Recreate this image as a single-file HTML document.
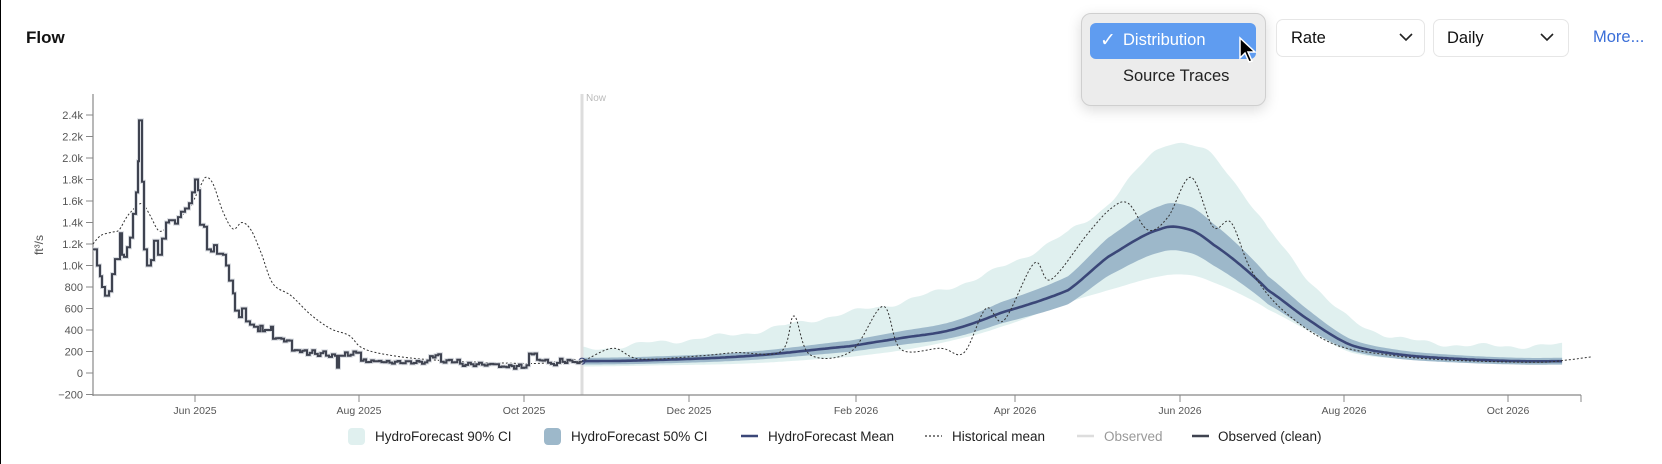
<!DOCTYPE html>
<html><head><meta charset="utf-8"><style>
html,body{margin:0;padding:0;background:#fff;}
body{width:1662px;height:464px;overflow:hidden;position:relative;font-family:"Liberation Sans",sans-serif;border-left:1px solid #000;box-sizing:border-box;}
.abs{position:absolute;}
.title{left:25px;top:28px;font-size:17px;font-weight:bold;color:#111;}
.menu{left:1080px;top:13px;width:183px;height:91px;background:#ececec;border:1px solid #cfcfcf;border-radius:10px;box-shadow:0 4px 14px rgba(0,0,0,0.15);}
.hl{left:1089px;top:23px;width:166px;height:36px;background:#5f9cf0;border-radius:6px;color:#fff;font-size:16.5px;}
.sel{border:1px solid #e6e6e6;border-radius:7px;background:#fff;font-size:16.5px;color:#111;}
.more{left:1592px;top:28px;font-size:16.5px;color:#3b6fd8;}
</style></head><body>
<div class="abs title">Flow</div>
<div class="abs menu"></div>
<div class="abs hl"><span style="position:absolute;left:10px;top:6px;font-size:19px;">✓</span><span style="position:absolute;left:33px;top:8px;">Distribution</span></div>
<div class="abs" style="left:1122px;top:67px;font-size:16.5px;color:#222;">Source Traces</div>
<svg class="abs" style="left:1237px;top:36px" width="22" height="30" viewBox="0 0 22 30"><path d="M2 2 L2 22 L7 17 L11 26 L14 25 L10 16 L17 16 Z" fill="#000" stroke="#fff" stroke-width="1.5"/></svg>
<div class="abs sel" style="left:1275px;top:19px;width:147px;height:36px;"><span style="position:absolute;left:14px;top:9px;">Rate</span><svg style="position:absolute;left:122px;top:12px" width="14" height="10"><path d="M1 2 L7 8 L13 2" fill="none" stroke="#222" stroke-width="1.6"/></svg></div>
<div class="abs sel" style="left:1432px;top:19px;width:134px;height:36px;"><span style="position:absolute;left:13px;top:9px;">Daily</span><svg style="position:absolute;left:106px;top:12px" width="14" height="10"><path d="M1 2 L7 8 L13 2" fill="none" stroke="#222" stroke-width="1.6"/></svg></div>
<div class="abs more">More...</div>
<svg id="ch" class="abs" style="left:0;top:0" width="1662" height="464"></svg>
<script>
var svg=document.getElementById('ch');
function Y(v){return 373-v*0.1075;}
var out='';
var cx=[581,650,750,850,900,950,1000,1067,1107,1160,1190,1213,1240,1267,1310,1350,1400,1460,1520,1563];
var mean=[110,120,160,250,325,400,560,770,1080,1340,1330,1190,1000,770,480,260,170,130,110,110];
var p95=[220,280,380,560,660,800,980,1300,1580,2100,2120,2000,1700,1330,850,490,320,260,250,260];
var p5=[60,70,90,150,210,300,430,650,770,900,910,840,730,590,380,190,130,100,90,90];
function interp(xs,vs,x){var n=xs.length;for(var i=0;i<n-1;i++){if(x<=xs[i+1]){var t=(x-xs[i])/(xs[i+1]-xs[i]);var v0=vs[Math.max(i-1,0)],v1=vs[i],v2=vs[i+1],v3=vs[Math.min(i+2,n-1)];
var m1=(v2-v0)/2,m2=(v3-v1)/2;var t2=t*t,t3=t2*t;return (2*t3-3*t2+1)*v1+(t3-2*t2+t)*m1+(-2*t3+3*t2)*v2+(t3-t2)*m2;}}return vs[n-1];}
var xsS=[];for(var x=581;x<=1563;x+=2.7)xsS.push(x);
function band(fu,fl,col){var a='M',b='';xsS.forEach(function(x,i){a+=(i?' L':'')+x.toFixed(1)+' '+Y(fu(x)).toFixed(1);});for(var i=xsS.length-1;i>=0;i--){b+=' L'+xsS[i].toFixed(1)+' '+Y(fl(xsS[i])).toFixed(1);}return '<path d="'+a+b+' Z" fill="'+col+'"/>';}
out+=band(function(x){return interp(cx,p95,x)+18*Math.sin(x*0.09)+10*Math.sin(x*0.23);},function(x){return interp(cx,p5,x);},'#e0f0ef');
out+=band(function(x){return interp(cx,mean,x)*1.15+15;},function(x){return Math.max(interp(cx,mean,x)*0.85-15,40);},'#9db8ca');
out+='<line x1="581" y1="94" x2="581" y2="395" stroke="#ddd" stroke-width="3"/>';
out+='<text x="585" y="101" font-size="10" fill="#bbb">Now</text>';
out+='<line x1="92" y1="94" x2="92" y2="396" stroke="#888" stroke-width="1.2"/>';
out+='<line x1="92" y1="395" x2="1580" y2="395" stroke="#888" stroke-width="1.2"/>';
var yl=[-200,0,200,400,600,800,'1.0k','1.2k','1.4k','1.6k','1.8k','2.0k','2.2k','2.4k'];
for(var i=0;i<yl.length;i++){var v=-200+200*i,y=Y(v);out+='<line x1="85" y1="'+y+'" x2="92" y2="'+y+'" stroke="#888"/>';out+='<text x="82" y="'+(y+4)+'" font-size="11" fill="#555" text-anchor="end">'+(v<0?'\u2212200':yl[i])+'</text>';}
out+='<text transform="translate(42,245) rotate(-90)" font-size="12" fill="#555" text-anchor="middle">ft³/s</text>';
var xt=[[194,'Jun 2025'],[358,'Aug 2025'],[523,'Oct 2025'],[688,'Dec 2025'],[855,'Feb 2026'],[1014,'Apr 2026'],[1179,'Jun 2026'],[1343,'Aug 2026'],[1507,'Oct 2026']];
xt.forEach(function(t){out+='<line x1="'+t[0]+'" y1="395" x2="'+t[0]+'" y2="402" stroke="#888"/><text x="'+t[0]+'" y="414" font-size="10.5" fill="#555" text-anchor="middle">'+t[1]+'</text>';});
out+='<line x1="1580" y1="395" x2="1580" y2="402" stroke="#888"/>';
var d='';xsS.forEach(function(x,i){d+=(i?' L':'M')+x.toFixed(1)+' '+Y(interp(cx,mean,x)).toFixed(1);});
out+='<path d="'+d+'" fill="none" stroke="#3b4778" stroke-width="2.6"/>';
out+='<circle cx="581" cy="'+Y(110)+'" r="3" fill="none" stroke="#3b4778" stroke-width="1.2"/>';
var hp=[[92,1200],[100,1280],[111,1310],[118,1330],[125,1440],[130,1500],[138,1570],[143,1560],[150,1450],[157,1330],[163,1330],[170,1400],[180,1460],[190,1560],[200,1750],[205,1820],[212,1760],[222,1500],[232,1340],[241,1400],[250,1330],[260,1120],[272,830],[290,720],[310,540],[330,410],[348,350],[360,240],[380,180],[420,130],[480,100],[540,90],[570,130],[581,110],[612,230],[639,130],[700,160],[735,190],[780,200],[793,530],[809,170],[850,200],[882,620],[900,220],[940,230],[963,190],[985,600],[1003,490],[1033,1020],[1050,870],[1087,1300],[1110,1530],[1127,1580],[1147,1330],[1167,1450],[1190,1820],[1212,1360],[1230,1400],[1250,960],[1280,600],[1330,280],[1385,170],[1450,120],[1534,100],[1565,120],[1590,150]];
var P=hp.map(function(p){return [p[0],Y(p[1])];});
var hd='M'+P[0][0]+' '+P[0][1];
for(var i=0;i<P.length-1;i++){var p0=P[Math.max(i-1,0)],p1=P[i],p2=P[i+1],p3=P[Math.min(i+2,P.length-1)];
hd+=' C'+(p1[0]+(p2[0]-p0[0])/6).toFixed(1)+' '+(p1[1]+(p2[1]-p0[1])/6).toFixed(1)+' '+(p2[0]-(p3[0]-p1[0])/6).toFixed(1)+' '+(p2[1]-(p3[1]-p1[1])/6).toFixed(1)+' '+p2[0]+' '+p2[1].toFixed(1);}
out+='<path d="'+hd+'" fill="none" stroke="#333" stroke-width="1" stroke-dasharray="2,2"/>';
var op=[[92,1150],[96,1000],[99,900],[101,800],[104,720],[108,760],[111,920],[114,1060],[117,1060],[119,1300],[121,1100],[123,1080],[126,1170],[129,1260],[132,1480],[135,1680],[137,1970],[138,2350],[141,1780],[143,1150],[146,1000],[150,1050],[153,1230],[157,1100],[161,1250],[165,1400],[168,1420],[174,1390],[177,1450],[180,1500],[184,1530],[188,1580],[191,1680],[194,1800],[197,1700],[199,1380],[203,1360],[206,1150],[210,1130],[213,1190],[216,1110],[222,1100],[225,1000],[228,860],[232,740],[234,580],[238,520],[241,600],[245,480],[249,450],[253,430],[257,400],[264,400],[270,430],[272,320],[283,300],[291,210],[299,200],[306,190],[314,180],[325,170],[334,160],[336,50],[338,160],[344,180],[358,190],[360,110],[383,100],[421,100],[429,160],[440,110],[459,80],[478,80],[498,60],[513,60],[528,180],[536,120],[547,90],[559,110],[574,100],[581,110]];
var od='',first=true;
for(var i=0;i<op.length-1;i++){var x0=op[i][0],x1=op[i+1][0],v=op[i][1];
 var n=Math.max(1,Math.round((x1-x0)/2.7));for(var k=0;k<n;k++){var xa=x0+(x1-x0)*k/n,xb=x0+(x1-x0)*(k+1)/n;var vv=v+(n>2?(Math.sin(xa*1.7)*12+Math.sin(xa*0.61)*10)*(v<300?1:2):0);var y=Y(vv);
 if(first){od='M'+xa.toFixed(1)+' '+y.toFixed(1);first=false;}else od+=' L'+xa.toFixed(1)+' '+y.toFixed(1);od+=' L'+xb.toFixed(1)+' '+y.toFixed(1);}}
out+='<path d="'+od+'" fill="none" stroke="#d8dbe0" stroke-width="4"/>';
out+='<path d="'+od+'" fill="none" stroke="#3f4350" stroke-width="2"/>';
var ly=436;
out+='<rect x="347" y="'+(ly-8)+'" width="17" height="17" rx="4" fill="#e0f0ef"/><text x="374" y="'+(ly+5)+'" font-size="13.5" fill="#222">HydroForecast 90% CI</text>';
out+='<rect x="543" y="'+(ly-8)+'" width="17" height="17" rx="4" fill="#9db8ca"/><text x="570" y="'+(ly+5)+'" font-size="13.5" fill="#222">HydroForecast 50% CI</text>';
out+='<line x1="740" y1="'+ly+'" x2="757" y2="'+ly+'" stroke="#3b4778" stroke-width="2.5"/><text x="767" y="'+(ly+5)+'" font-size="13.5" fill="#222">HydroForecast Mean</text>';
out+='<line x1="924" y1="'+ly+'" x2="941" y2="'+ly+'" stroke="#333" stroke-width="1.2" stroke-dasharray="2,2"/><text x="951" y="'+(ly+5)+'" font-size="13.5" fill="#222">Historical mean</text>';
out+='<line x1="1076" y1="'+ly+'" x2="1093" y2="'+ly+'" stroke="#ddd" stroke-width="2.5"/><text x="1103" y="'+(ly+5)+'" font-size="13.5" fill="#999">Observed</text>';
out+='<line x1="1191" y1="'+ly+'" x2="1208" y2="'+ly+'" stroke="#3f4350" stroke-width="2.5"/><text x="1217" y="'+(ly+5)+'" font-size="13.5" fill="#222">Observed (clean)</text>';
svg.innerHTML=out;
</script>
</body></html>
